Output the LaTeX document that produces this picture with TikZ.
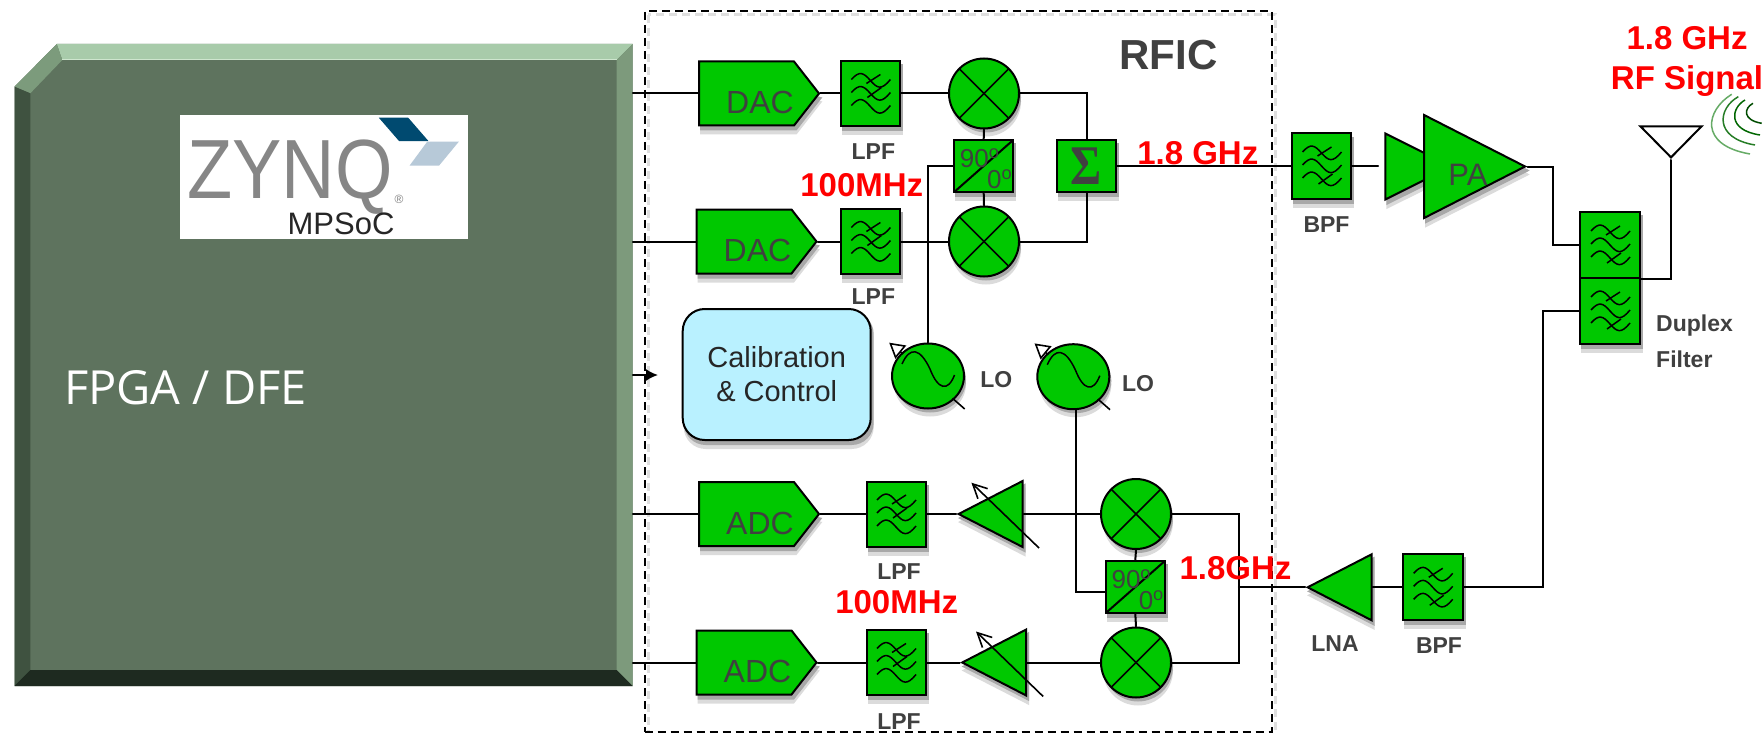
\documentclass[tikz,border=0pt]{standalone}
\usepackage{fontspec}
\setmainfont{Liberation Sans}
\newfontfamily\sigmafont{Liberation Serif}
\newfontfamily\fpgafont{Open Sans}
\usetikzlibrary{arrows.meta,backgrounds,calc,positioning,shapes.geometric,shapes.symbols}
\definecolor{blockgreen}{HTML}{00C800}
\definecolor{labelgray}{HTML}{404040}
\definecolor{calblue}{HTML}{B9F1FF}
\definecolor{chipface}{HTML}{5E735E}
\definecolor{beveltop}{HTML}{A8CBAA}
\definecolor{bevelcut}{HTML}{7C9B7C}
\definecolor{bevelleft}{HTML}{3F5240}
\definecolor{bevelright}{HTML}{7D9A7C}
\definecolor{bevelbot}{HTML}{1E2A20}
\definecolor{bevelglow}{HTML}{CFE6CF}
\definecolor{logoblue}{HTML}{004A70}
\definecolor{logopale}{HTML}{B7C9D8}
\newcommand{\convtxt}[1]{\hspace*{27pt}\raisebox{-20pt}[0pt][0pt]{#1}}
\tikzset{
  blockbase/.style={draw=black,line width=2pt,fill=blockgreen,inner sep=0pt},
  conv/.style={blockbase,signal,signal to=east,signal from=nowhere,signal pointer angle=104,
    minimum width=120pt,minimum height=64pt,text=labelgray,font=\fontsize{32}{34}\selectfont},
  filt/.style={blockbase,rectangle,minimum width=59pt,minimum height=65pt,
    path picture={
      \begin{scope}[shift={(path picture bounding box.center)},line width=1.5pt]
        \foreach \y in {-13,0,13}
          \draw (-19,\y-1) .. controls (-11,\y-10) and (-7,\y-8) .. (0,\y) .. controls (7,\y+8) and (11,\y+10) .. (20,\y-1);
        \draw (-4,-10) -- (10,-19);
        \draw (-3,#1+4) -- (11,#1-6);
      \end{scope}}},
  filt/.default=0,
  mixer/.style={blockbase,circle,minimum size=70pt,
    path picture={
      \begin{scope}[shift={(path picture bounding box.center)},line width=1.5pt]
        \draw (-40,-40) -- (40,40);
        \draw (-40,40) -- (40,-40);
      \end{scope}}},
  phase/.style={blockbase,rectangle,minimum width=59pt,minimum height=52pt,
    path picture={\draw[line width=2pt] (path picture bounding box.south west) -- (path picture bounding box.north east);}},
  osc/.style={blockbase,ellipse,minimum width=72pt,minimum height=65pt,
    path picture={
      \begin{scope}[shift={(path picture bounding box.center)},line width=1.5pt]
        \draw (-26,-12) .. controls (-18,-30) and (-8,-28) .. (2,-7) .. controls (10,14) and (20,16) .. (26.5,-1);
      \end{scope}}},
  amp/.style={blockbase,isosceles triangle,isosceles triangle stretches,shape border rotate=#1},
  phasetxt/.style={text=labelgray,inner sep=0pt,font=\fontsize{26}{28}\selectfont},
  graylbl/.style={text=labelgray,inner sep=0pt,font=\fontsize{23}{26}\bfseries\selectfont},
  redlbl/.style={text=red,inner sep=0pt,font=\fontsize{33}{40}\bfseries\selectfont},
  wire/.style={line width=2pt,line cap=round},
  tune/.style={line width=1.6pt,-{Straight Barb[length=14pt,width=14pt,line width=1.6pt]}},
  lotune/.style={line width=1.6pt,-{Triangle[open,length=15pt,width=17pt,fill=white]}},
}
\begin{document}
\begin{tikzpicture}[x=1pt,y=-1pt]
  \useasboundingbox (0,0) rectangle (1763,733);
  \fill[chipface] (56.8,44) -- (632.6,44) -- (632.6,686) -- (14.5,686) -- (14.5,86.7) -- cycle;
  \fill[beveltop] (56.8,44) -- (632.6,44) -- (616.6,60) -- (62.3,60) -- cycle;
  \fill[bevelcut] (56.8,44) -- (62.3,60) -- (30.3,93.3) -- (14.5,86.7) -- cycle;
  \fill[bevelleft] (14.5,86.7) -- (30.3,93.3) -- (30.3,670) -- (14.5,686) -- cycle;
  \fill[bevelright] (632.6,44) -- (632.6,686) -- (616.6,670) -- (616.6,60) -- cycle;
  \fill[bevelbot] (14.5,686) -- (30.3,670) -- (616.6,670) -- (632.6,686) -- cycle;
  \draw[bevelglow,line width=1.5pt] (62.3,59.5) -- (616.6,59.5);
  \node[minimum width=618pt,minimum height=642pt,anchor=north west,inner sep=0pt] (chip) at (14.5,44) {};
  \node[anchor=west,text=white,inner sep=0pt,font=\fontsize{47}{50}\fpgafont] (fpga) at (64,388) {FPGA / DFE};

  \node[fill=white,minimum width=288pt,minimum height=124pt,inner sep=0pt] (logo) at (324,177) {};
  \fill[logoblue] (378.8,117.7) -- (408.2,117.7) -- (428.4,141) -- (399,141) -- cycle;
  \fill[logopale] (427.2,141.7) -- (458.8,141.7) -- (439,165.7) -- (409.5,165.7) -- cycle;
  \node[text=gray!95,inner sep=0pt,font=\fontsize{84}{86}\selectfont] (zynq) at (290,177) {\scalebox{.88}[1]{ZYNQ}};
  \node[text=gray,inner sep=0pt,font=\fontsize{12}{13}\selectfont] (regmark) at (399,199) {\textregistered};
  \node[text=black!85,inner sep=0pt,font=\fontsize{31}{34}\selectfont] (mpsoc) at (341,224) {MPSoC};

  \draw[gray!25,line width=3pt,dash pattern=on 8pt off 5pt] (648,15) rectangle (1275,735);
  \node[draw=black,line width=2pt,dash pattern=on 8pt off 5pt,minimum width=627pt,minimum height=721pt,anchor=north west,inner sep=0pt] (rfic) at (643.5,10) {};
  \node[text=labelgray,inner sep=0pt,font=\fontsize{42}{44}\bfseries\selectfont] (rficlbl) at (1168.6,55) {RFIC};

  \node[conv] (dac1) at (746.5,93.5) {\convtxt{DAC}};
  \node[conv] (dac2) at (744,241.5) {\convtxt{DAC}};
  \node[conv] (adc1) at (746.5,514) {\convtxt{ADC}};
  \node[conv] (adc2) at (744,662.5) {\convtxt{ADC}};
  \node[filt] (lpf1) at (870.4,93.5) {};
  \node[filt] (lpf2) at (870.4,241.5) {};
  \node[filt] (lpf3) at (896,514) {};
  \node[filt] (lpf4) at (896,662.5) {};
  \node[graylbl,below=16pt of lpf1,xshift=3pt] (lpf1lbl) {LPF};
  \node[graylbl,below=13pt of lpf2,xshift=3pt] (lpf2lbl) {LPF};
  \node[graylbl,below=16pt of lpf3,xshift=3pt] (lpf3lbl) {LPF};
  \node[graylbl,below=17pt of lpf4,xshift=3pt] (lpf4lbl) {LPF};

  \node[mixer] (mix1) at (984,93.5) {};
  \node[mixer] (mix2) at (984,241.5) {};
  \node[mixer] (mix3) at (1136,514) {};
  \node[mixer] (mix4) at (1136,662.5) {};
  \node[phase] (ph1) at (983.7,166) {};
  \node[phase] (ph2) at (1135.3,587) {};
  \node[phasetxt] (ph1a) at (979.7,158) {90\textsuperscript{o}};
  \node[phasetxt] (ph1b) at (999.7,179.7) {0\textsuperscript{o}};
  \node[phasetxt] (ph2a) at (1131.3,579) {90\textsuperscript{o}};
  \node[phasetxt] (ph2b) at (1151.3,600.7) {0\textsuperscript{o}};
  \node[blockbase,rectangle,minimum width=59pt,minimum height=52pt,text=labelgray,font=\fontsize{56}{58}\sigmafont\bfseries] (sum) at (1086.5,166) {\scalebox{.85}[1]{Σ}};

  \node[filt=14] (bpf1) at (1321.5,166) {};
  \node[graylbl,below=16.5pt of bpf1,xshift=5pt] (bpf1lbl) {BPF};
  \node[amp=0,anchor=apex,minimum width=66pt,minimum height=66pt] (drv) at (1454,166.5) {};
  \node[amp=0,anchor=apex,minimum width=103pt,minimum height=101pt] (pa) at (1527.7,166.5) {};
  \node[text=labelgray,inner sep=0pt,font=\fontsize{31}{33}\selectfont] (palbl) at (1468,174.7) {PA};

  \node[filt=14,minimum width=60pt,minimum height=66pt] (dupa) at (1610,245) {};
  \node[filt=14,minimum width=60pt,minimum height=66pt] (dupb) at (1610,311) {};
  \node[graylbl,anchor=north west,align=left,font=\fontsize{23}{36}\bfseries\selectfont] (duplbl) at (1656,315) {Duplex\\Filter};

  \node[draw=black,line width=2pt,fill=white,isosceles triangle,isosceles triangle stretches,shape border rotate=270,inner sep=0pt,anchor=apex,minimum width=61pt,minimum height=31pt] (ant) at (1671,160) {};
  \node[redlbl,align=center] (rflbl) at (1687,61) {1.8 GHz\\RF Signal};
  \draw[green!45!black!60,line width=1.5pt] (1731.7,94.3) .. controls (1706,110) and (1698,145) .. (1750,154);
  \draw[green!40!black!85,line width=1.5pt] (1738.3,96.7) .. controls (1718,108) and (1713,138) .. (1755,145);
  \draw[green!40!black,line width=1.5pt] (1745,100) .. controls (1731,108) and (1727,130) .. (1760,135);
  \draw[green!30!black,line width=1.5pt] (1753,103.3) .. controls (1744,108) and (1742,120) .. (1761.7,123.3);

  \node[amp=180,anchor=apex,minimum width=66pt,minimum height=64pt] (lna) at (1305,587.3) {};
  \node[filt=14,minimum width=60pt,minimum height=66pt] (bpf2) at (1432.7,587.3) {};
  \node[graylbl] (lnalbl) at (1335,644) {LNA};
  \node[graylbl] (bpf2lbl) at (1439,645.7) {BPF};

  \node[amp=180,anchor=apex,minimum width=66pt,minimum height=64pt] (vga1) at (956,514) {};
  \node[amp=180,anchor=apex,minimum width=66pt,minimum height=64pt] (vga2) at (959.6,662.5) {};
  \draw[tune] ([shift={(83,34)}]vga1.apex) -- ([shift={(15.4,-31.3)}]vga1.apex);
  \draw[tune] ([shift={(83.6,34)}]vga2.apex) -- ([shift={(16.4,-31)}]vga2.apex);

  \node[draw=black,line width=2pt,fill=calblue,rounded corners=22pt,minimum width=188pt,minimum height=131pt,align=center,inner sep=0pt,text=black!85,font=\fontsize{29}{34}\selectfont] (cal) at (776.7,374.5) {Calibration\\\& Control};
  \node[osc] (lo1) at (928,376) {};
  \node[osc] (lo2) at (1073.3,376.7) {};
  \node[graylbl] (lo1lbl) at (996.3,380) {LO};
  \node[graylbl] (lo2lbl) at (1138,383.3) {LO};
  \draw[lotune] ([shift={(-25,-22)}]lo1.center) -- ([shift={(-38.8,-33.3)}]lo1.center);
  \draw[lotune] ([shift={(-25,-22)}]lo2.center) -- ([shift={(-38.8,-33.3)}]lo2.center);
  \draw[line width=1.6pt] ([shift={(24.5,22.3)}]lo1.center) -- ([shift={(36.7,33)}]lo1.center);
  \draw[line width=1.6pt] ([shift={(24.5,22.3)}]lo2.center) -- ([shift={(36.7,33)}]lo2.center);

  \coordinate (pagap) at (1378,166);
  \coordinate (rxj) at (1238.8,587.3);
  \coordinate (calgap) at (658,375);
  \draw[wire] (chip.east |- dac1.west) -- (dac1.west);
  \draw[wire] (chip.east |- dac2.west) -- (dac2.west);
  \draw[wire] (chip.east |- adc1.west) -- (adc1.west);
  \draw[wire] (chip.east |- adc2.west) -- (adc2.west);
  \draw[wire,-{Latex[length=12pt,width=12pt]}] (chip.east |- calgap) -- (calgap);
  \draw[wire] (dac1.east) -- (lpf1.west);
  \draw[wire] (dac2.east) -- (lpf2.west);
  \draw[wire] (lpf1.east) -- (mix1.west);
  \draw[wire] (lpf2.east) -- (mix2.west);
  \draw[wire] (mix1.south) -- (ph1.north);
  \draw[wire] (mix2.north) -- (ph1.south);
  \draw[wire] (mix1.east) -| (sum.north);
  \draw[wire] (mix2.east) -| (sum.south);
  \draw[wire] (sum.east) -- (bpf1.west);
  \draw[wire] (bpf1.east) -- (pagap);
  \draw[wire] (lo1.north) |- (ph1.west);
  \draw[wire] ([xshift=3pt]lo2.south) |- ([yshift=-5pt]ph2.west);
  \draw[wire] (pa.apex) -- ++(25.3,0) |- (dupa.west);
  \draw[wire] (dupa.south east) -| (ant.apex);
  \draw[wire] (dupb.west) -- ++(-36,0) |- (bpf2.east);
  \draw[wire] (bpf2.west) -- (lna.lower side);
  \draw[wire] (lna.apex) -- (rxj);
  \draw[wire] (mix3.east) -| (rxj) |- (mix4.east);
  \draw[wire] (mix3.south) -- (ph2.north);
  \draw[wire] (mix4.north) -- (ph2.south);
  \draw[wire] (mix3.west) -- (vga1.lower side);
  \draw[wire] (mix4.west) -- (vga2.lower side);
  \draw[wire] (vga1.apex) -- (lpf3.east);
  \draw[wire] (vga2.apex) -- (lpf4.east);
  \draw[wire] (lpf3.west) -- (adc1.east);
  \draw[wire] (lpf4.west) -- (adc2.east);

  \begin{scope}[on background layer]
    \foreach \tone/\drop in {14/8,34/4} {
      \foreach \n in {lpf1,lpf2,lpf3,lpf4,bpf1,bpf2,dupa,dupb,ph1,ph2,sum}
        \fill[black!\tone] ([shift={(2,\drop)}]\n.south west) rectangle ([shift={(2,\drop)}]\n.north east);
      \foreach \n in {dac1,dac2,adc1,adc2}
        \fill[black!\tone] ([shift={(2,\drop)}]\n.north west) -- ([shift={(2,\drop)}]\n.east) -- ([shift={(2,\drop)}]\n.south east) -- ([shift={(2,\drop)}]\n.south west) -- cycle;
      \foreach \n in {mix1,mix2,mix3,mix4}
        \fill[black!\tone] ([shift={(2,\drop)}]\n.center) circle [radius=35];
      \foreach \n in {lo1,lo2}
        \fill[black!\tone] ([shift={(2,\drop)}]\n.center) ellipse [x radius=36,y radius=32.5];
      \foreach \n in {drv,pa,lna,vga1,vga2}
        \fill[black!\tone] ([shift={(2,\drop)}]\n.apex) -- ([shift={(2,\drop)}]\n.left corner) -- ([shift={(2,\drop)}]\n.right corner) -- cycle;
      \fill[black!\tone,rounded corners=22pt] ([shift={(2,\drop)}]cal.south west) rectangle ([shift={(2,\drop)}]cal.north east);
    }
  \end{scope}

  \node[redlbl] (rf1) at (1197.8,152.7) {1.8 GHz};
  \node[redlbl] (if1) at (861.8,185) {100MHz};
  \node[redlbl] (rf2) at (1235.5,568) {1.8GHz};
  \node[redlbl] (if2) at (896.7,601.7) {100MHz};
\end{tikzpicture}
\end{document}
